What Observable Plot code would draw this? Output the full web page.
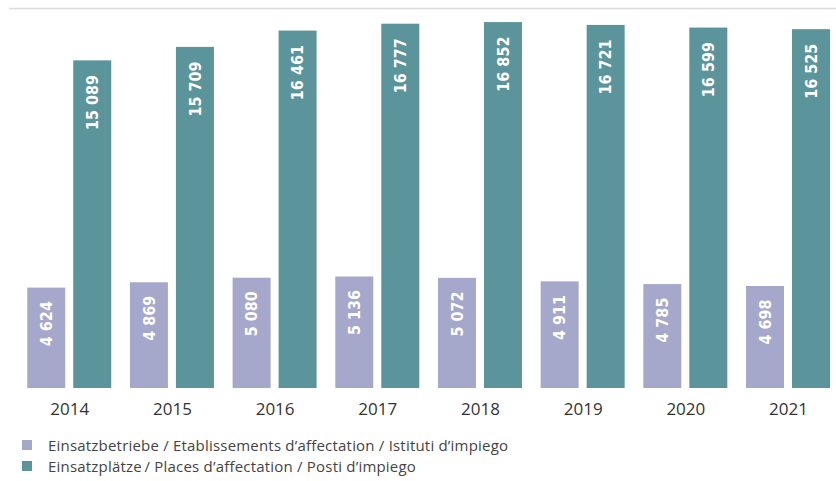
<!DOCTYPE html>
<html>
<head>
<meta charset="utf-8">
<script src="https://cdn.jsdelivr.net/npm/d3@7"></script>
<script src="https://cdn.jsdelivr.net/npm/@observablehq/plot@0.6"></script>
<style>
  html, body { margin: 0; padding: 0; background: #fff; }
  #chart svg { display: block; }
  .legend { position: relative; margin-top: 0; padding-left: 22px; font-family: "Open Sans", sans-serif; font-size: 15px; letter-spacing: 0.2px; line-height: 20.5px; color: #444; }
  .legend .row { display: flex; align-items: center; height: 20.5px; line-height: 20.5px; }
  .legend .sw { width: 10px; height: 10px; margin-right: 16px; flex: none; }
</style>
</head>
<body>
<div id="chart"></div>
<script>
const years = ["2014", "2015", "2016", "2017", "2018", "2019", "2020", "2021"];
const betriebe = [4624, 4869, 5080, 5136, 5072, 4911, 4785, 4698];
const plaetze = [15089, 15709, 16461, 16777, 16852, 16721, 16599, 16525];
const seriesNames = [
  "Einsatzbetriebe / Etablissements d\u2019affectation / Istituti d\u2019impiego",
  "Einsatzpl\u00e4tze\u2009/ Places d\u2019affectation / Posti d\u2019impiego"
];
const colors = ["#a5a7cb", "#5b949b"];
const yMax = 17500;

const fmt = d3.formatLocale({decimal: ".", thousands: " ", grouping: [3], currency: ["", ""]}).format(",");

const rowsA = years.map((y, i) => ({year: y, value: betriebe[i]}));
const rowsB = years.map((y, i) => ({year: y, value: plaetze[i]}));

const labelFont = "DejaVu Sans";

const plot = Plot.plot({
  width: 836,
  height: 420,
  marginLeft: 9,
  marginRight: 0,
  marginTop: 8,
  marginBottom: 32,
  style: {fontFamily: "'Open Sans', sans-serif", fontSize: "17px", color: "#333", background: "#fff"},
  x: {type: "band", domain: years, round: false, paddingInner: 0.182, paddingOuter: 0.118, align: 0.753, label: null, tickSize: 0, tickPadding: 14},
  y: {domain: [0, yMax], axis: null},
  marks: [
    Plot.ruleY([yMax], {stroke: "#dcdcdc", strokeWidth: 1.5}),
    Plot.barY(rowsA, {x: "year", y: "value", fill: colors[0], insetRight: 46}),
    Plot.barY(rowsB, {x: "year", y: "value", fill: colors[1], insetLeft: 46}),
    Plot.text(rowsA, {x: "year", y: "value", text: d => fmt(d.value), rotate: -90, textAnchor: "end", dx: -23, dy: 13, fill: "white", fontSize: 16, fontWeight: 600, fontFamily: labelFont}),
    Plot.text(rowsB, {x: "year", y: "value", text: d => fmt(d.value), rotate: -90, textAnchor: "end", dx: 23, dy: 14, fill: "white", fontSize: 16, fontWeight: 600, fontFamily: labelFont})
  ]
});
d3.select(plot).selectAll("g[font-family='DejaVu Sans']").style("font-stretch", "condensed");
document.getElementById("chart").appendChild(plot);

const legend = document.createElement("div");
legend.className = "legend";
legend.style.marginTop = "15px";
seriesNames.forEach((name, i) => {
  const row = document.createElement("div");
  row.className = "row";
  const sw = document.createElement("span");
  sw.className = "sw";
  sw.style.background = colors[i];
  const t = document.createElement("span");
  t.textContent = name;
  row.appendChild(sw);
  row.appendChild(t);
  legend.appendChild(row);
});
document.body.appendChild(legend);
</script>
</body>
</html>
